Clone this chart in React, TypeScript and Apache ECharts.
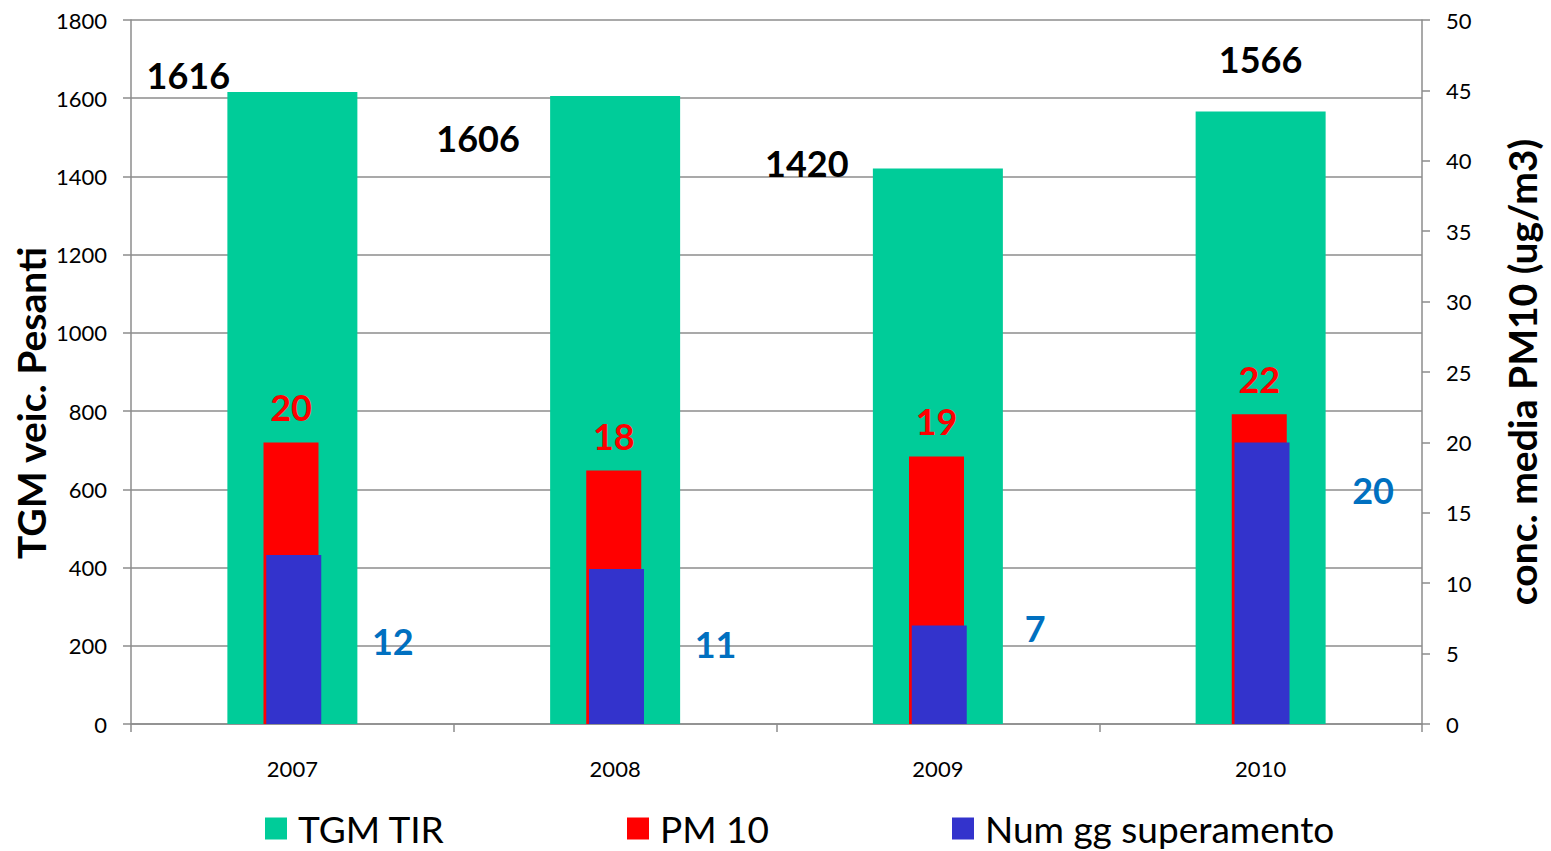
import React, { useEffect, useRef } from "react";
import * as echarts from "echarts";

const categories = ["2007", "2008", "2009", "2010"];
const tgmTir = [1616, 1606, 1420, 1566];
const pm10 = [20, 18, 19, 22];
const numGg = [12, 11, 7, 20];

const leftTicks = { min: 0, max: 1800, interval: 200 };
const rightTicks = { min: 0, max: 50, interval: 5 };

// label offsets (px) relative to bar top centre
const tgmLabelOffsets = [[-104, -17], [-137, 42], [-131, -6], [0, -53]];
const pmLabelOffsets = [[0, -35], [0, -35], [0, -35], [0, -35]];
const ggLabelOffsets = [[99, 86], [99, 75], [96, 3], [111, 48]];

const FONT = "Lato, 'Open Sans', sans-serif";
const GRID_COLOR = "#8c8c8c";

export default function App() {
  const ref = useRef<HTMLDivElement>(null);
  useEffect(() => {
    if (!ref.current) return;
    const chart = echarts.init(ref.current, undefined, { renderer: "svg" });
    const mk = (vals: number[], offs: number[][]) =>
      vals.map((v, i) => ({ value: v, label: { offset: offs[i] } }));
    const bigLabel = (color: string) => ({
      show: true,
      position: "top",
      distance: 0,
      align: "center",
      verticalAlign: "middle",
      fontFamily: FONT,
      fontWeight: "bold",
      fontSize: 36,
      color,
    });
    const plain = (v: number) => String(v);
    chart.setOption({
      animation: false,
      textStyle: { fontFamily: FONT },
      grid: { left: 131, right: 129, top: 20, bottom: 127, containLabel: false },
      legend: [
        { data: ["TGM TIR"], left: 265 },
        { data: ["PM 10"], left: 627 },
        { data: ["Num gg superamento"], left: 952 },
      ].map((l) => ({
        ...l,
        top: 810,
        padding: 0,
        icon: "rect",
        itemWidth: 22,
        itemHeight: 22,
        textStyle: { fontSize: 37, color: "#000", fontFamily: FONT, padding: [0, 0, 0, 6] },
      })),
      xAxis: [
        {
          type: "category",
          data: categories,
          axisLine: { lineStyle: { color: GRID_COLOR, width: 1.5 } },
          axisTick: { show: true, length: 8, lineStyle: { color: GRID_COLOR, width: 1.5 } },
          axisLabel: { fontSize: 22, color: "#000", margin: 33, fontFamily: FONT },
        },
        {
          type: "category",
          data: categories,
          show: false,
        },
      ],
      yAxis: [
        {
          type: "value",
          ...leftTicks,
          axisLine: { show: true, lineStyle: { color: GRID_COLOR, width: 1.5 } },
          axisTick: { show: true, length: 8, lineStyle: { color: GRID_COLOR, width: 1.5 } },
          axisLabel: { fontSize: 22, color: "#000", margin: 24, fontFamily: FONT, formatter: plain },
          splitLine: { show: true, lineStyle: { color: GRID_COLOR, width: 1.5 } },
        },
        {
          type: "value",
          ...rightTicks,
          position: "right",
          axisLine: { show: true, lineStyle: { color: GRID_COLOR, width: 1.5 } },
          axisTick: { show: true, length: 8, lineStyle: { color: GRID_COLOR, width: 1.5 } },
          axisLabel: { fontSize: 22, color: "#000", margin: 24, fontFamily: FONT, formatter: plain },
          splitLine: { show: false },
        },
      ],
      graphic: [
        {
          type: "text",
          x: 31,
          y: 403,
          rotation: Math.PI / 2,
          style: {
            text: "TGM veic. Pesanti",
            font: `bold 39px ${FONT}`,
            fill: "#000",
            align: "center",
            verticalAlign: "middle",
          },
        },
        {
          type: "text",
          x: 1522,
          y: 372,
          rotation: Math.PI / 2,
          style: {
            text: "conc. media PM10 (ug/m3)",
            font: `bold 39px ${FONT}`,
            fill: "#000",
            align: "center",
            verticalAlign: "middle",
          },
        },
      ],
      series: [
        {
          name: "TGM TIR",
          type: "bar",
          xAxisIndex: 0,
          yAxisIndex: 0,
          barWidth: 130,
          itemStyle: { color: "#00CC99" },
          label: bigLabel("#000"),
          data: mk(tgmTir, tgmLabelOffsets),
          z: 1,
        },
        {
          name: "PM 10",
          type: "bar",
          xAxisIndex: 1,
          yAxisIndex: 1,
          barWidth: 55,
          barGap: "-95%",
          itemStyle: { color: "#FF0000" },
          label: bigLabel("#FF0000"),
          data: mk(pm10, pmLabelOffsets),
          z: 2,
        },
        {
          name: "Num gg superamento",
          type: "bar",
          xAxisIndex: 1,
          yAxisIndex: 1,
          barWidth: 55,
          barGap: "-95%",
          itemStyle: { color: "#3333CC" },
          label: bigLabel("#0070C0"),
          data: mk(numGg, ggLabelOffsets),
          z: 3,
        },
      ],
    });
    return () => chart.dispose();
  }, []);
  return (
    <div
      ref={ref}
      style={{ position: "fixed", left: 0, top: 0, width: 1551, height: 851, background: "#fff" }}
    />
  );
}
